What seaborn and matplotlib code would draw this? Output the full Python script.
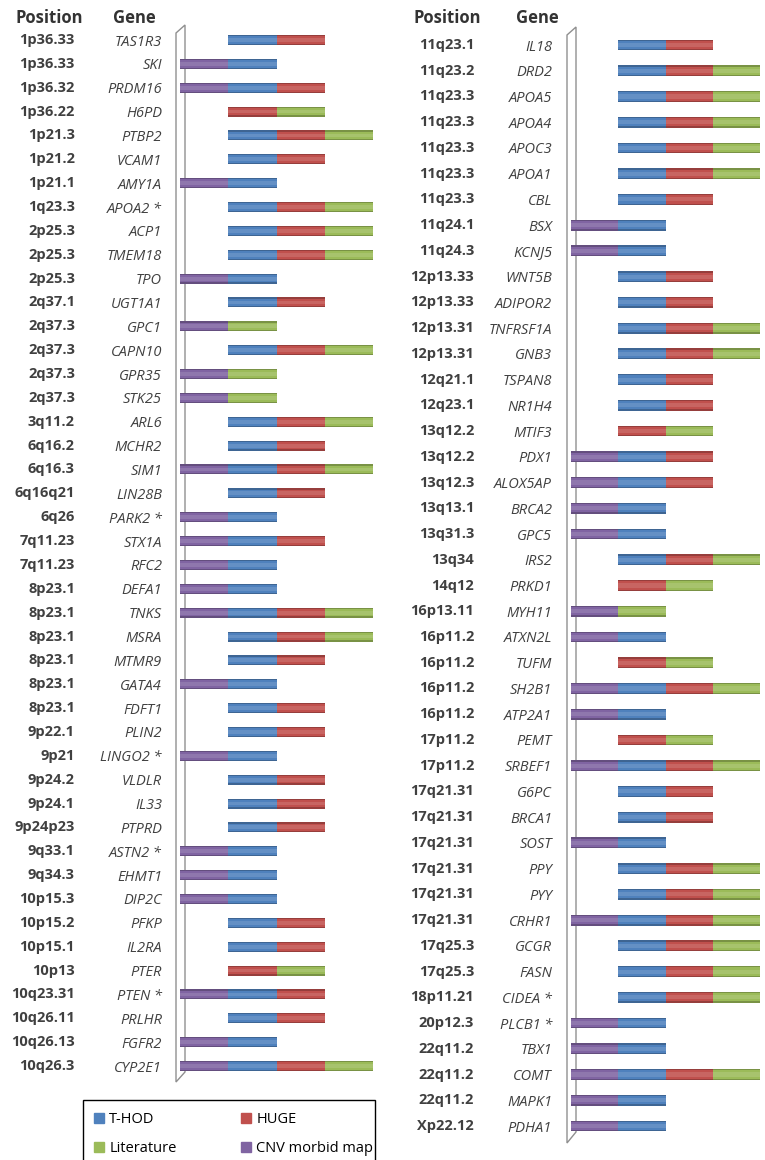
import numpy as np
import pandas as pd
import seaborn as sns
from matplotlib import pyplot as plt
from matplotlib import transforms
from matplotlib.patches import Patch, Polygon, Rectangle
from matplotlib.colors import to_rgb

# ---- data ----
left_positions = ["1p36.33", "1p36.33", "1p36.32", "1p36.22", "1p21.3", "1p21.2", "1p21.1",
                  "1q23.3", "2p25.3", "2p25.3", "2p25.3", "2q37.1", "2q37.3", "2q37.3",
                  "2q37.3", "2q37.3", "3q11.2", "6q16.2", "6q16.3", "6q16q21", "6q26",
                  "7q11.23", "7q11.23", "8p23.1", "8p23.1", "8p23.1", "8p23.1", "8p23.1",
                  "8p23.1", "9p22.1", "9p21", "9p24.2", "9p24.1", "9p24p23", "9q33.1",
                  "9q34.3", "10p15.3", "10p15.2", "10p15.1", "10p13", "10q23.31",
                  "10q26.11", "10q26.13", "10q26.3"]
left_genes = ["TAS1R3", "SKI", "PRDM16", "H6PD", "PTBP2", "VCAM1", "AMY1A", "APOA2 *",
              "ACP1", "TMEM18", "TPO", "UGT1A1", "GPC1", "CAPN10", "GPR35", "STK25", "ARL6",
              "MCHR2", "SIM1", "LIN28B", "PARK2 *", "STX1A", "RFC2", "DEFA1", "TNKS", "MSRA",
              "MTMR9", "GATA4", "FDFT1", "PLIN2", "LINGO2 *", "VLDLR", "IL33", "PTPRD",
              "ASTN2 *", "EHMT1", "DIP2C", "PFKP", "IL2RA", "PTER", "PTEN *", "PRLHR",
              "FGFR2", "CYP2E1"]
left_cnv = [0, 1, 1, 0, 0, 0, 1, 0, 0, 0, 1, 0, 1, 0, 1, 1, 0, 0, 1, 0, 1, 1, 1, 1, 1, 0,
            0, 1, 0, 0, 1, 0, 0, 0, 1, 1, 1, 0, 0, 0, 1, 0, 1, 1]
left_thod = [1, 1, 1, 0, 1, 1, 1, 1, 1, 1, 1, 1, 0, 1, 0, 0, 1, 1, 1, 1, 1, 1, 1, 1, 1, 1,
             1, 1, 1, 1, 1, 1, 1, 1, 1, 1, 1, 1, 1, 0, 1, 1, 1, 1]
left_huge = [1, 0, 1, 1, 1, 1, 0, 1, 1, 1, 0, 1, 0, 1, 0, 0, 1, 1, 1, 1, 0, 1, 0, 0, 1, 1,
             1, 0, 1, 1, 0, 1, 1, 1, 0, 0, 0, 1, 1, 1, 1, 1, 0, 1]
left_lit = [0, 0, 0, 1, 1, 0, 0, 1, 1, 1, 0, 0, 1, 1, 1, 1, 1, 0, 1, 0, 0, 0, 0, 0, 1, 1,
            0, 0, 0, 0, 0, 0, 0, 0, 0, 0, 0, 0, 0, 1, 0, 0, 0, 1]

right_positions = ["11q23.1", "11q23.2", "11q23.3", "11q23.3", "11q23.3", "11q23.3",
                   "11q23.3", "11q24.1", "11q24.3", "12p13.33", "12p13.33", "12p13.31",
                   "12p13.31", "12q21.1", "12q23.1", "13q12.2", "13q12.2", "13q12.3",
                   "13q13.1", "13q31.3", "13q34", "14q12", "16p13.11", "16p11.2", "16p11.2",
                   "16p11.2", "16p11.2", "17p11.2", "17p11.2", "17q21.31", "17q21.31",
                   "17q21.31", "17q21.31", "17q21.31", "17q21.31", "17q25.3", "17q25.3",
                   "18p11.21", "20p12.3", "22q11.2", "22q11.2", "22q11.2", "Xp22.12"]
right_genes = ["IL18", "DRD2", "APOA5", "APOA4", "APOC3", "APOA1", "CBL", "BSX", "KCNJ5",
               "WNT5B", "ADIPOR2", "TNFRSF1A", "GNB3", "TSPAN8", "NR1H4", "MTIF3", "PDX1",
               "ALOX5AP", "BRCA2", "GPC5", "IRS2", "PRKD1", "MYH11", "ATXN2L", "TUFM",
               "SH2B1", "ATP2A1", "PEMT", "SRBEF1", "G6PC", "BRCA1", "SOST", "PPY", "PYY",
               "CRHR1", "GCGR", "FASN", "CIDEA *", "PLCB1 *", "TBX1", "COMT", "MAPK1", "PDHA1"]
right_cnv = [0, 0, 0, 0, 0, 0, 0, 1, 1, 0, 0, 0, 0, 0, 0, 0, 1, 1, 1, 1, 0, 0, 1, 1, 0, 1,
             1, 0, 1, 0, 0, 1, 0, 0, 1, 0, 0, 0, 1, 1, 1, 1, 1]
right_thod = [1, 1, 1, 1, 1, 1, 1, 1, 1, 1, 1, 1, 1, 1, 1, 0, 1, 1, 1, 1, 1, 0, 0, 1, 0, 1,
              1, 0, 1, 1, 1, 1, 1, 1, 1, 1, 1, 1, 1, 1, 1, 1, 1]
right_huge = [1, 1, 1, 1, 1, 1, 1, 0, 0, 1, 1, 1, 1, 1, 1, 1, 1, 1, 0, 0, 1, 1, 0, 0, 1, 1,
              0, 1, 1, 1, 1, 0, 1, 1, 1, 1, 1, 1, 0, 0, 1, 0, 0]
right_lit = [0, 1, 1, 1, 1, 1, 0, 0, 0, 0, 0, 1, 1, 0, 0, 1, 0, 0, 0, 0, 1, 1, 1, 0, 1, 1,
             0, 1, 1, 0, 0, 0, 1, 1, 1, 1, 1, 1, 0, 0, 1, 0, 0]

sources = ["CNV morbid map", "T-HOD", "HUGE", "Literature"]
colors = {"CNV morbid map": "#8064A2", "T-HOD": "#4F81BD",
          "HUGE": "#C0504D", "Literature": "#9BBB59"}
text_color = "#404040"

sns.set_theme(style="white")
plt.rcParams["font.family"] = ["Open Sans", "DejaVu Sans"]

W, H = 765, 1160
fig = plt.figure(figsize=(W / 100, H / 100), dpi=100)


def px(x, y):
    # pixel position (from top-left) -> figure fraction
    return (x / W, 1 - y / H)


def mix(c, other, t):
    c = np.array(to_rgb(c))
    return tuple(c + (np.array(to_rgb(other)) - c) * t)


def draw_panel(top, bottom, x0, unit, positions, genes, cnv, thod, huge, lit,
               pos_right, gene_right, wall):
    n = len(genes)
    step = (bottom - top) / (n - 1)
    y_top = top - step / 2
    y_bot = bottom + step / 2
    x_l, y_l = px(x0, y_bot)
    ax = fig.add_axes([x_l, y_l, 4 * unit / W, (y_bot - y_top) / H])
    ax.patch.set_alpha(0)

    df = pd.DataFrame({"CNV morbid map": cnv, "T-HOD": thod, "HUGE": huge,
                       "Literature": lit}, index=genes)
    # rows without a CNV entry start one slot in
    left = 1 - df["CNV morbid map"].values
    for src in sources:
        vals = df[src].values
        # tube look: dark rim, body colour, soft highlight
        shades = [(mix(colors[src], "black", 0.22), 0.42),
                  (colors[src], 0.32),
                  (mix(colors[src], "white", 0.12), 0.16)]
        for col, w in shades:
            sns.barplot(x=vals, y=genes, order=genes, color=col, width=w,
                        errorbar=None, saturation=1, left=left, linewidth=0, ax=ax)
        left = left + vals

    ax.set_xlim(0, 4)
    ax.set_ylim(n - 0.5, -0.5)
    ax.set_xlabel("")
    ax.set_ylabel("")
    ax.set_xticks([])
    sns.despine(ax=ax, left=True, bottom=True)
    ax.set_yticks(range(n), genes)
    ax.tick_params(axis="y", length=0, pad=(x0 - gene_right) * 0.72)
    for lab in ax.get_yticklabels():
        lab.set_fontstyle("italic")
        lab.set_fontsize(10.5)
        lab.set_color(text_color)

    trans = transforms.blended_transform_factory(fig.transFigure, ax.transData)
    for i, p in enumerate(positions):
        ax.text(pos_right / W, i, p, transform=trans, ha="right", va="center",
                fontsize=10.5, fontweight="bold", color=text_color)

    wall_pts = [px(*pt) for pt in wall]
    fig.add_artist(Polygon(wall_pts, closed=True, fill=False, edgecolor="#8F8F8F",
                           linewidth=1.0, transform=fig.transFigure, zorder=-1))
    return ax


draw_panel(40, 1066, 180, 48.3, left_positions, left_genes,
           left_cnv, left_thod, left_huge, left_lit,
           pos_right=75, gene_right=162,
           wall=[(176, 33), (185, 25), (185, 1072), (176, 1082)])
draw_panel(45, 1126, 571, 47.3, right_positions, right_genes,
           right_cnv, right_thod, right_huge, right_lit,
           pos_right=474, gene_right=552,
           wall=[(567, 35), (576, 27), (576, 1132), (567, 1143)])

# headers
for x, label in [(49, "Position"), (134, "Gene"), (447, "Position"), (537, "Gene")]:
    fig.text(*px(x, 18), label, ha="center", va="center", fontsize=12,
             fontweight="bold", color="#333333")

# legend box and entries
fig.add_artist(Rectangle(px(83, 1180), 292 / W, 80 / H, fill=False, edgecolor="black",
                         linewidth=1.0, transform=fig.transFigure))
handles = [Patch(color=colors["T-HOD"], label="T-HOD"),
           Patch(color=colors["Literature"], label="Literature"),
           Patch(color=colors["HUGE"], label="HUGE"),
           Patch(color=colors["CNV morbid map"], label="CNV morbid map")]
fig.legend(handles=handles, ncol=2, loc="upper left", bbox_to_anchor=px(94, 1112),
           frameon=False, fontsize=10.5, handlelength=0.7, handleheight=0.7,
           handletextpad=0.35, columnspacing=4.4, labelspacing=0.95, borderpad=0,
           borderaxespad=0, labelcolor="black")

fig.savefig("out.png", dpi=100)
